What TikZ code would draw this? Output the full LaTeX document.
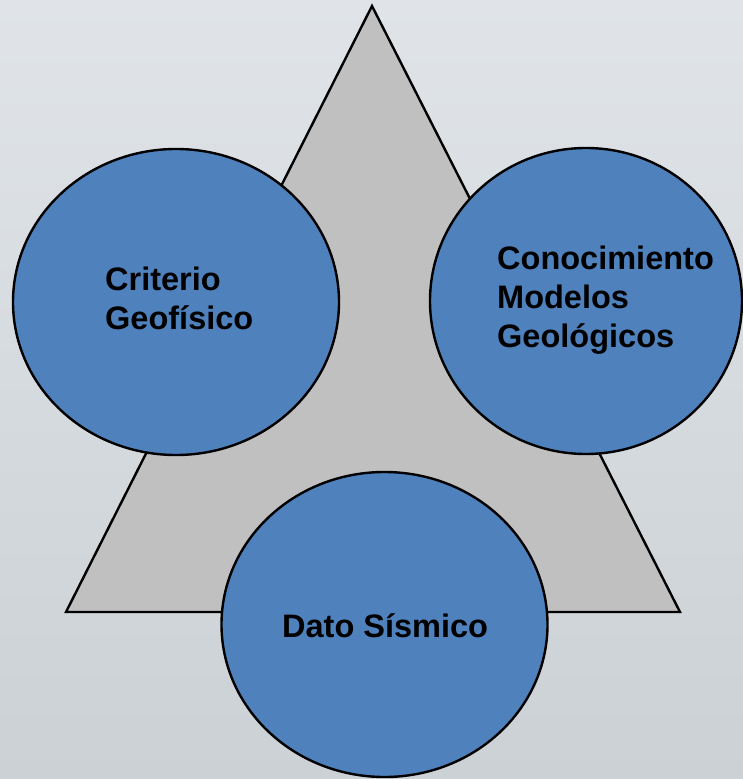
\documentclass[tikz,border=0pt]{standalone}
\usepackage{fontspec}
\setmainfont{Liberation Sans}
\usetikzlibrary{shapes.geometric}
\definecolor{bgtop}{HTML}{E0E4E8}
\definecolor{bgmid}{HTML}{F9FAFB}
\definecolor{bgbot}{HTML}{CBD1D5}
\definecolor{circblue}{HTML}{4F81BD}
\definecolor{trigray}{HTML}{C0C0C0}
\begin{document}
\begin{tikzpicture}[x=1pt,y=-1pt,
  bubble/.style={ellipse,draw=black,line width=2.4pt,fill=circblue,inner sep=0pt},
  lbl/.style={anchor=base west,inner sep=0pt,font=\fontsize{32.5}{39}\selectfont\bfseries,text=black}]
\useasboundingbox (0,0) rectangle (743,779);
\shade[top color=bgtop,middle color=bgmid,bottom color=bgbot] (0,0) rectangle (743,779);
\coordinate (apex) at (372,6);
\coordinate (bl) at (66,612);
\coordinate (br) at (680,612);
\draw[line width=2.4pt,fill=trigray,line join=miter] (apex) -- (br) -- (bl) -- cycle;
\node[bubble,minimum width=326pt,minimum height=306pt] (left) at (176,302) {};
\node[bubble,minimum width=312pt,minimum height=306pt] (right) at (586,301) {};
\node[bubble,minimum width=326pt,minimum height=305pt] (bottom) at (384.5,624.5) {};
\node[lbl] (l1) at (105,290) {Criterio};
\node[lbl] (l2) at (105,329) {Geofísico};
\node[lbl] (r1) at (497,269) {Conocimiento};
\node[lbl] (r2) at (497,308) {Modelos};
\node[lbl] (r3) at (497,347) {Geológicos};
\node[lbl] (b1) at (282,637) {Dato Sísmico};
\end{tikzpicture}
\end{document}
